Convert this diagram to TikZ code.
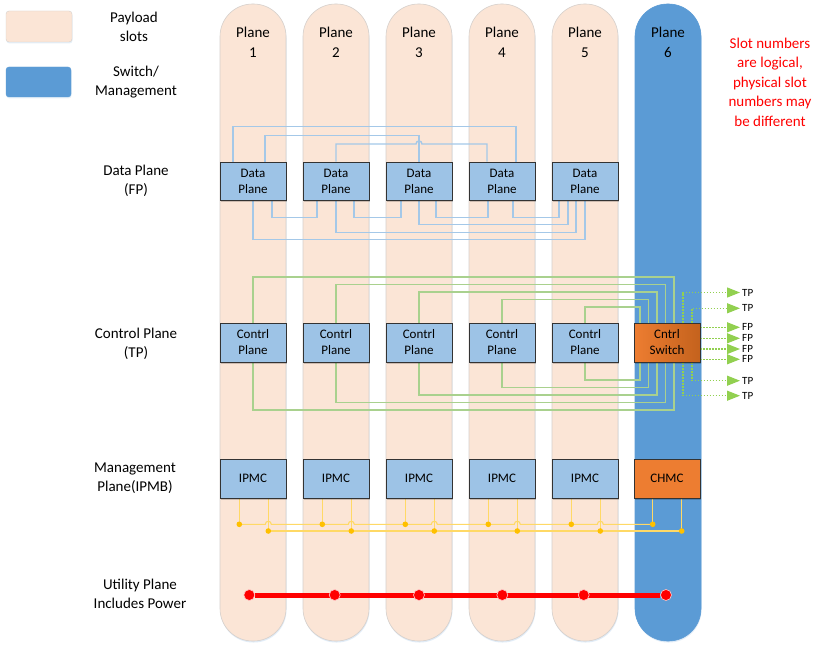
\documentclass[tikz,border=0pt]{standalone}
\usepackage{fontspec}
\setmainfont{Carlito}
\usetikzlibrary{arrows.meta,shadows,calc}
\definecolor{peach}{HTML}{FBE5D6}
\definecolor{peachborder}{HTML}{D6D0CC}
\definecolor{swblue}{HTML}{5B9BD5}
\definecolor{boxblue}{HTML}{9DC3E6}
\definecolor{lineblue}{HTML}{A4C8E8}
\definecolor{lgreen}{HTML}{A9D18E}
\definecolor{dgreen}{HTML}{92D050}
\definecolor{orng}{HTML}{ED7D31}
\definecolor{orngd}{HTML}{C4621D}
\definecolor{ylw}{HTML}{FFD966}
\definecolor{ylwd}{HTML}{FFC000}
\pgfdeclarelayer{back}\pgfdeclarelayer{mid}\pgfsetlayers{back,mid,main}
\tikzset{
  plane/.style={draw=peachborder, fill=peach, rounded corners=32.5pt, minimum width=66pt, minimum height=637pt, inner sep=0pt, line width=0.6pt,
    drop shadow={shadow xshift=0.5pt, shadow yshift=-1.5pt, opacity=0.18, fill=swblue}},
  swplane/.style={plane, draw=swblue, fill=swblue},
  plabel/.style={align=center, font=\fontsize{15}{20}\selectfont, inner sep=0pt},
  lbl/.style={align=center, font=\fontsize{15}{19}\selectfont, inner sep=0pt},
  blk/.style={draw=black!80, fill=boxblue, minimum width=66pt, minimum height=38pt, inner sep=0pt, align=center,
    font=\fontsize{13}{16}\selectfont, line width=0.8pt,
    drop shadow={shadow xshift=0.5pt, shadow yshift=-2pt, opacity=0.18, fill=black}},
  dline/.style={draw=lineblue, line width=1.4pt},
  cline/.style={draw=lgreen, line width=1.6pt},
  tpline/.style={draw=dgreen, line width=1.4pt, dash pattern=on 1.5pt off 1.5pt, -{Triangle[length=13pt,width=10pt]}},
  tplabel/.style={anchor=west, inner sep=0pt, font=\fontsize{11}{12}\selectfont},
  yline/.style={draw=ylw, line width=1.1pt},
  ydot/.style={fill=ylwd},
  udot/.style={circle, fill=red, draw=white!80!red, line width=0.6pt, minimum size=11pt, inner sep=0pt}
}
\begin{document}
\begin{tikzpicture}[x=1pt, y=-1pt]
\useasboundingbox (0,0) rectangle (831,650);
\begin{pgfonlayer}{back}
\fill[white] (0,0) rectangle (831,650);
% planes
\node[plane] (pl1) at (253,322.5) {};
\node[plane] (pl2) at (336,322.5) {};
\node[plane] (pl3) at (419,322.5) {};
\node[plane] (pl4) at (502,322.5) {};
\node[plane] (pl5) at (585,322.5) {};
\node[swplane] (pl6) at (668,322.5) {};
\end{pgfonlayer}
\node[plabel] (pt1) at (253,42) {Plane\\1};
\node[plabel] (pt2) at (336,42) {Plane\\2};
\node[plabel] (pt3) at (419,42) {Plane\\3};
\node[plabel] (pt4) at (502,42) {Plane\\4};
\node[plabel] (pt5) at (585,42) {Plane\\5};
\node[plabel] (pt6) at (668,42) {Plane\\6};

% legend
\node[draw=peachborder, fill=peach, rounded corners=3pt, minimum width=66pt, minimum height=31pt, inner sep=0pt,
  drop shadow={shadow xshift=0.5pt, shadow yshift=-1.5pt, opacity=0.15, fill=swblue}] (lg1) at (39,26.5) {};
\node[draw=swblue, fill=swblue, rounded corners=3pt, minimum width=65pt, minimum height=30pt, inner sep=0pt,
  drop shadow={shadow xshift=0.5pt, shadow yshift=-1.5pt, opacity=0.15, fill=swblue}] (lg2) at (38.5,82) {};
\node[lbl] (lt1) at (134,26.5) {Payload\\slots};
\node[lbl] (lt2) at (136,82.5) {Switch/\\Management};

% row labels
\node[lbl] (ld) at (136,180.5) {Data Plane\\(FP)};
\node[lbl] (lc) at (136,343.5) {Control Plane\\(TP)};
\node[lbl] (lm) at (135,478) {Management\\Plane(IPMB)};
\node[lbl] (lu) at (140,593.5) {Utility Plane\\Includes Power};

% note
\node[align=center, font=\fontsize{15}{19.5}\selectfont, text=red, inner sep=0pt] (note) at (770,82)
  {Slot numbers\\are logical,\\physical slot\\numbers may\\be different};

% data plane
\node[blk] (d1) at (253,181) {Data\\Plane};
\node[blk] (d2) at (336,181) {Data\\Plane};
\node[blk] (d3) at (419,181) {Data\\Plane};
\node[blk] (d4) at (502,181) {Data\\Plane};
\node[blk] (d5) at (585,181) {Data\\Plane};

% control plane
\node[blk, minimum height=39pt] (c1) at (253,342.5) {Contrl\\Plane};
\node[blk, minimum height=39pt] (c2) at (336,342.5) {Contrl\\Plane};
\node[blk, minimum height=39pt] (c3) at (419,342.5) {Contrl\\Plane};
\node[blk, minimum height=39pt] (c4) at (502,342.5) {Contrl\\Plane};
\node[blk, minimum height=39pt] (c5) at (585,342.5) {Contrl\\Plane};
\node[blk, minimum height=39pt, left color=orng, right color=orngd] (cs) at (667,342.5) {Cntrl\\Switch};

% management plane
\node[blk, minimum height=39pt] (m1) at (253,478.5) {IPMC};
\node[blk, minimum height=39pt] (m2) at (336,478.5) {IPMC};
\node[blk, minimum height=39pt] (m3) at (419,478.5) {IPMC};
\node[blk, minimum height=39pt] (m4) at (502,478.5) {IPMC};
\node[blk, minimum height=39pt] (m5) at (585,478.5) {IPMC};
\node[blk, minimum height=39pt, fill=orng] (mc) at (667,478.5) {CHMC};

% utility plane
\node[udot] (u1) at (249.3,595) {};
\node[udot] (u2) at (334.7,595) {};
\node[udot] (u3) at (419,595) {};
\node[udot] (u4) at (502.3,595) {};
\node[udot] (u5) at (583.7,595) {};
\node[udot] (u6) at (666,595) {};

% free ends
\coordinate (tp1) at (740,292.5);
\coordinate (tp2) at (740,308.3);
\coordinate (fp1) at (740,327.3);
\coordinate (fp2) at (740,338.3);
\coordinate (fp3) at (740,349);
\coordinate (fp4) at (740,359.3);
\coordinate (tp3) at (740,380.7);
\coordinate (tp4) at (740,395.7);
\foreach \k in {1,...,5} {
  \coordinate (a\k) at ({239.3+83*(\k-1)},524.3);
  \coordinate (b\k) at ({268.3+83*(\k-1)},531);
}
\coordinate (a6) at (652.7,524.3);
\coordinate (b6) at (681.7,531);

\begin{pgfonlayer}{mid}
% data plane mesh
\draw[dline] ([xshift=-20pt]d1.north) -- ++(0,-35) -| ([xshift=14pt]d4.north);
\draw[dline] ([xshift=12pt]d1.north) -- ++(0,-26) -| (d3.north);
\draw[dline] (d2.north) |- (416,144) .. controls (416,140) and (422,140) .. (422,144) -| ([xshift=-15pt]d4.north);
\draw[dline] ([xshift=19pt]d1.south) -- ++(0,17) -| ([xshift=-19pt]d2.south);
\draw[dline] ([xshift=18pt]d2.south) -- ++(0,17) -| ([xshift=-18pt]d3.south);
\draw[dline] ([xshift=17pt]d3.south) -- ++(0,17) -| ([xshift=-14pt]d4.south);
\draw[dline] ([xshift=11pt]d4.south) -- ++(0,17) -| ([xshift=-26pt]d5.south);
\draw[dline] (d3.south) -- ++(0,24) -| ([xshift=-17pt]d5.south);
\draw[dline] (d2.south) -- ++(0,32) -| ([xshift=-9pt]d5.south);
\draw[dline] (d1.south) -- ++(0,39) -| (d5.south);

% control plane star
\draw[cline] (c1.north) -- ++(0,-45.5) -| ([xshift=7pt]cs.north);
\draw[cline] (c2.north) -- ++(0,-38) -| ([xshift=-1.5pt]cs.north);
\draw[cline] (c3.north) -- ++(0,-30.5) -| ([xshift=-10pt]cs.north);
\draw[cline] (c4.north) -- ++(0,-23) -| ([xshift=-18.5pt]cs.north);
\draw[cline] (c5.north) -- ++(0,-15.5) -| ([xshift=-27pt]cs.north);
\draw[cline] (c1.south) -- ++(0,47.5) -| ([xshift=7pt]cs.south);
\draw[cline] (c2.south) -- ++(0,40) -| ([xshift=-1.5pt]cs.south);
\draw[cline] (c3.south) -- ++(0,32.5) -| ([xshift=-10pt]cs.south);
\draw[cline] (c4.south) -- ++(0,25) -| ([xshift=-18.5pt]cs.south);
\draw[cline] (c5.south) -- ++(0,17.5) -| ([xshift=-27pt]cs.south);

% switch outputs
\draw[tpline] ([xshift=16pt]cs.north) |- (tp1);
\draw[tpline] ([xshift=25pt]cs.north) |- (tp2);
\draw[tpline] (cs.east |- fp1) -- (fp1);
\draw[tpline] (cs.east |- fp2) -- (fp2);
\draw[tpline] (cs.east |- fp3) -- (fp3);
\draw[tpline] (cs.east |- fp4) -- (fp4);
\draw[tpline] ([xshift=25pt]cs.south) |- (tp3);
\draw[tpline] ([xshift=16pt]cs.south) |- (tp4);

% IPMB
\foreach \k in {1,...,5} {
  \draw[yline] (m\k.south -| a\k) -- (a\k);
  \draw[yline] (m\k.south -| b\k) -- (b\k);
}
\draw[yline] (mc.south -| a6) -- (a6);
\draw[yline] (mc.south -| b6) -- (b6);
\draw[yline] (b1) -- (b6);
\draw[yline] (a1) \foreach \k in {0,...,4} { -- ({265.3+83*\k},524.3) .. controls +(0,-4) and +(0,-4) .. ({271.3+83*\k},524.3) } -- (a6);

% utility
\draw[red, line width=5pt] (u1) -- (u6);
\end{pgfonlayer}

\foreach \k in {1,...,6} {
  \fill[ydot] (a\k) circle (2.8pt);
  \fill[ydot] (b\k) circle (2.8pt);
}

\node[tplabel] (ltp1) at ([xshift=2pt]tp1) {TP};
\node[tplabel] (ltp2) at ([xshift=2pt]tp2) {TP};
\node[tplabel] (lfp1) at ([xshift=2pt]fp1) {FP};
\node[tplabel] (lfp2) at ([xshift=2pt]fp2) {FP};
\node[tplabel] (lfp3) at ([xshift=2pt]fp3) {FP};
\node[tplabel] (lfp4) at ([xshift=2pt]fp4) {FP};
\node[tplabel] (ltp3) at ([xshift=2pt]tp3) {TP};
\node[tplabel] (ltp4) at ([xshift=2pt]tp4) {TP};
\end{tikzpicture}
\end{document}
